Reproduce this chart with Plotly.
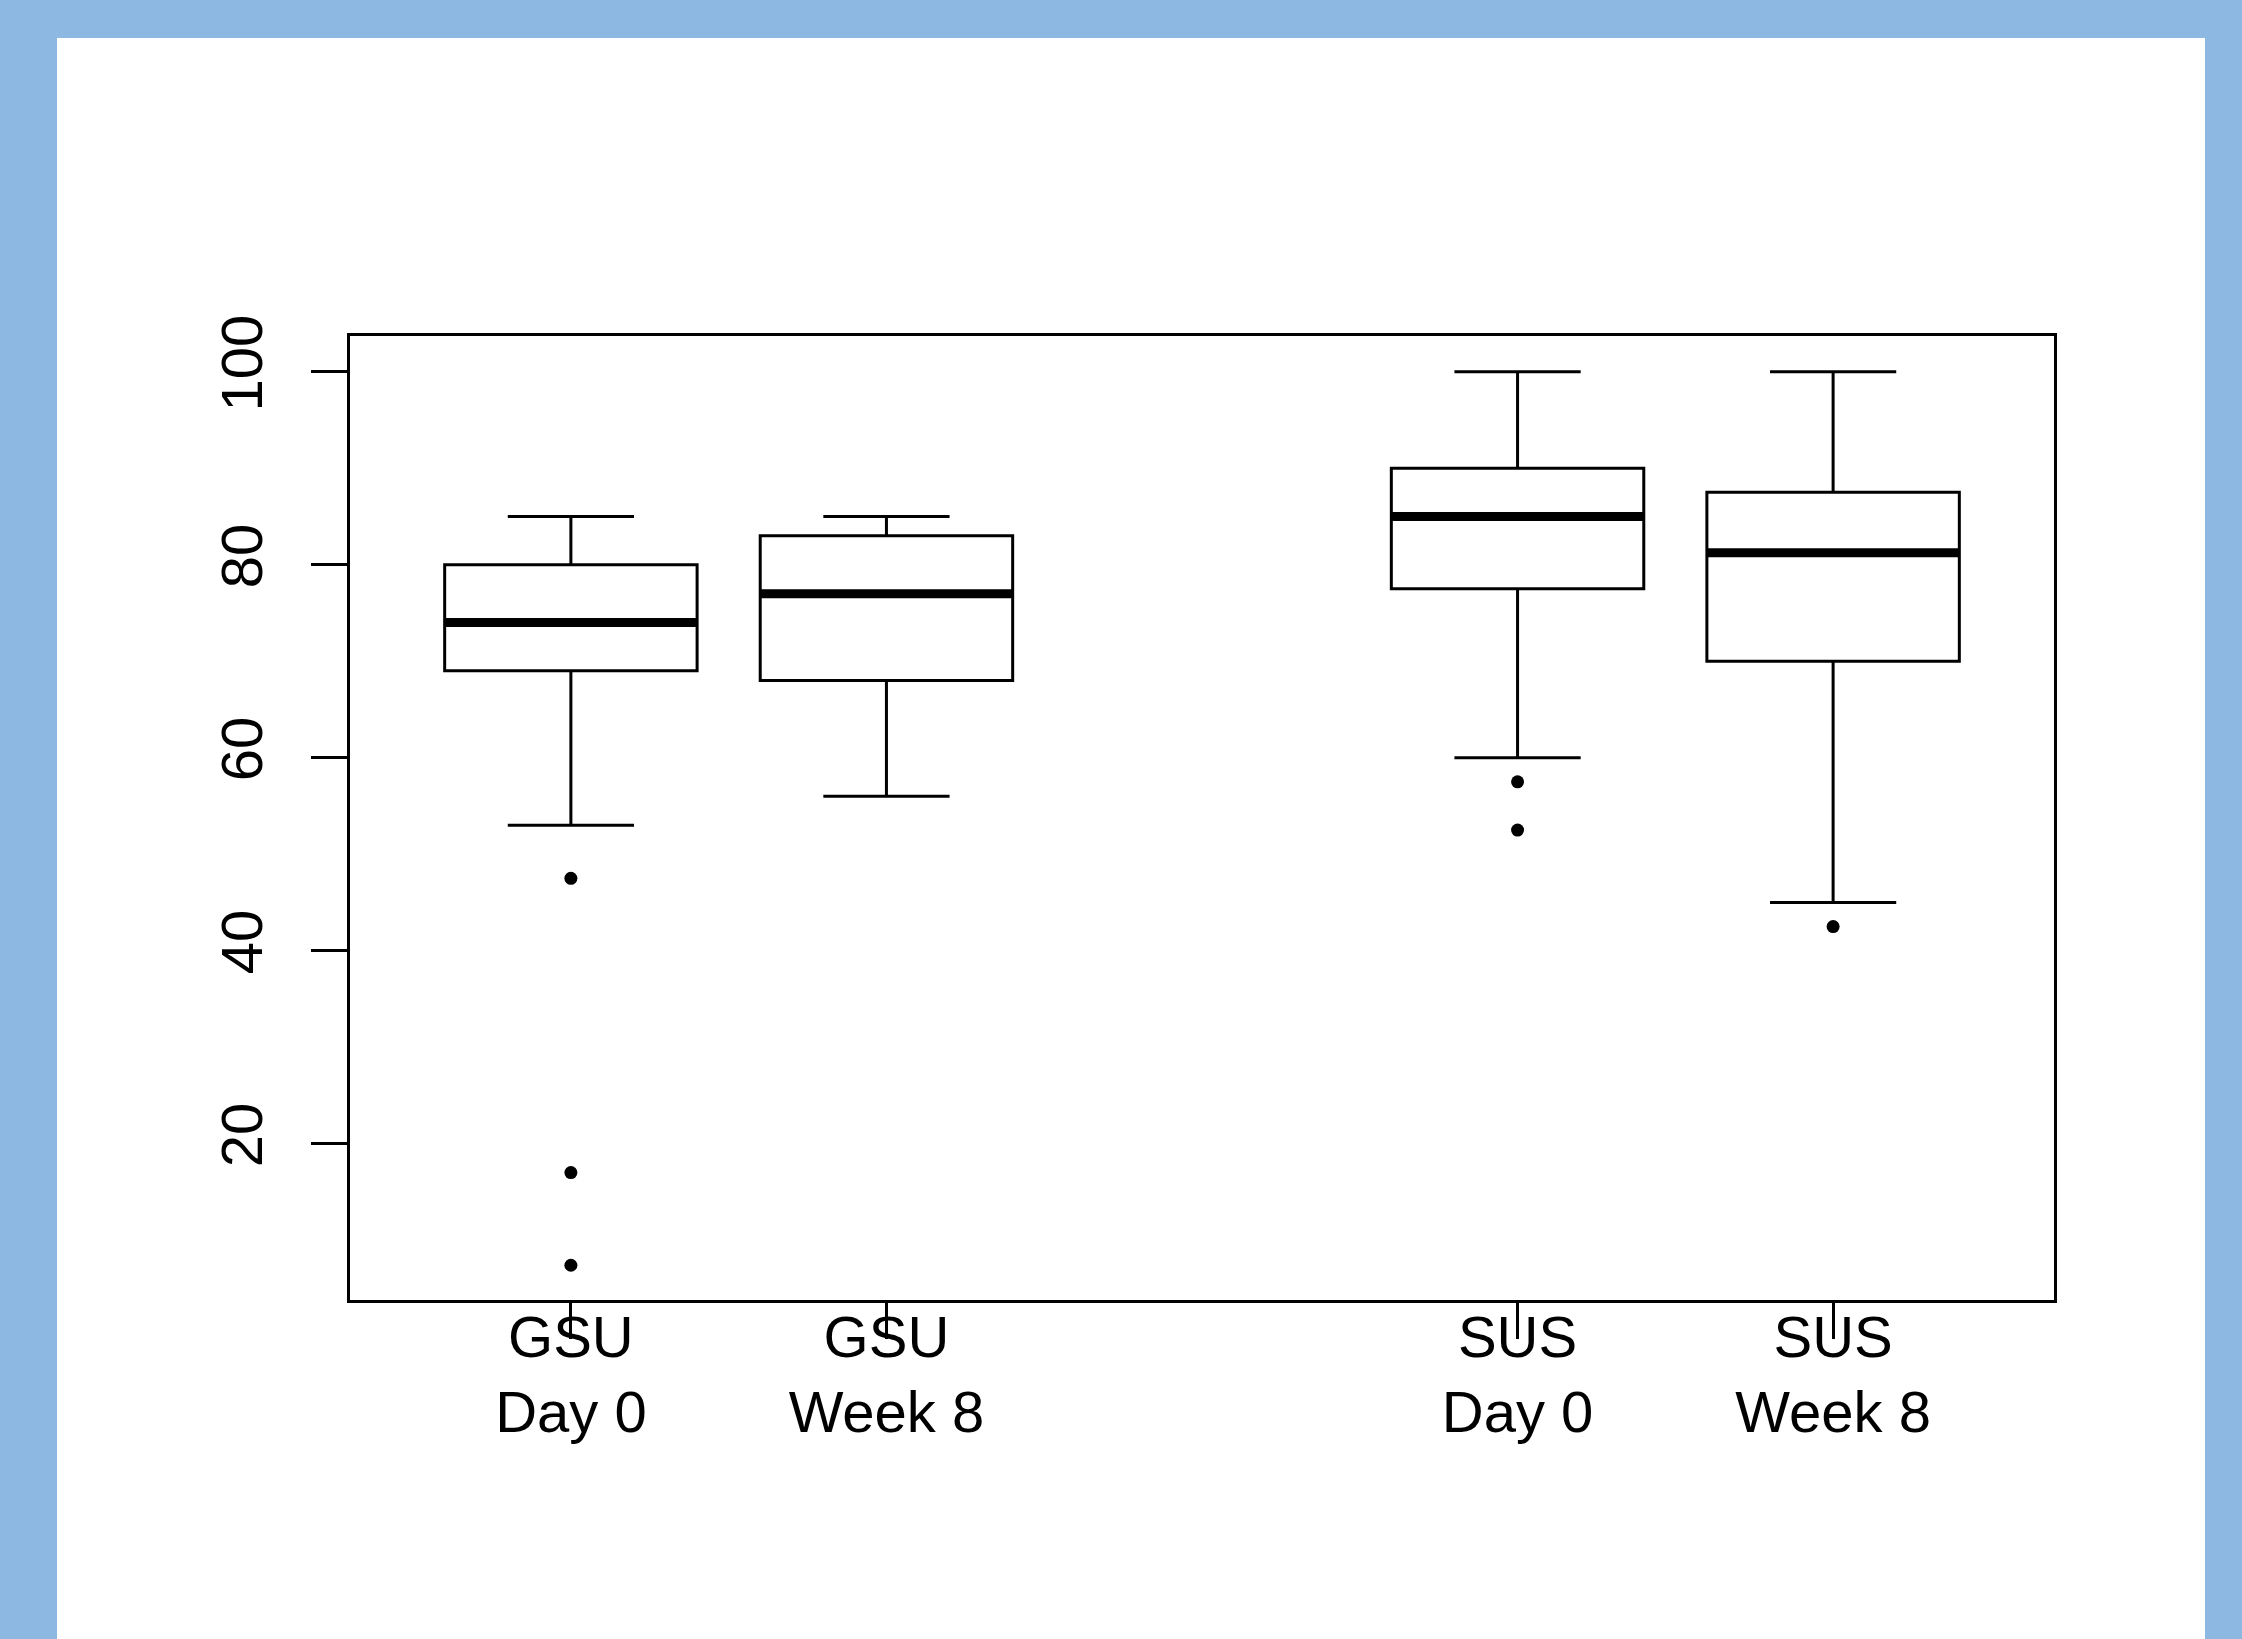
import plotly.graph_objects as go

# ---- data ----
categories = ["GSU<br>Day 0", "GSU<br>Week 8", "SUS<br>Day 0", "SUS<br>Week 8"]
positions = [1, 2, 4, 5]
lower_whisker = [53, 56, 60, 45]
q1 = [69, 68, 77.5, 70]
median = [74, 77, 85, 81.25]
q3 = [80, 83, 90, 87.5]
upper_whisker = [85, 85, 100, 100]
outlier_pos = [1, 1, 1, 4, 4, 5]
outlier_val = [47.5, 17, 7.4, 57.5, 52.5, 42.5]
y_ticks = [20, 40, 60, 80, 100]

BOX_W = 0.8
LW = 3

fig = go.Figure()

fig.add_trace(go.Box(
    x=positions, q1=q1, median=median, q3=q3,
    lowerfence=lower_whisker, upperfence=upper_whisker,
    width=BOX_W, whiskerwidth=0.5,
    fillcolor="white", line=dict(color="black", width=LW),
    boxpoints=False, showlegend=False, hoverinfo="skip",
))

# thick median lines
mx, my = [], []
for p, m in zip(positions, median):
    mx += [p - BOX_W / 2, p + BOX_W / 2, None]
    my += [m, m, None]
fig.add_trace(go.Scatter(x=mx, y=my, mode="lines",
                         line=dict(color="black", width=9),
                         showlegend=False, hoverinfo="skip"))

# outliers
fig.add_trace(go.Scatter(x=outlier_pos, y=outlier_val, mode="markers",
                         marker=dict(color="black", size=13),
                         showlegend=False, hoverinfo="skip"))

W, H = 2242, 1639
L, R, T, B = 350, 188, 336, 339
pw, ph = W - L - R, H - T - B

def px2paper_x(px):
    return (px - L) / pw

def px2paper_y(py):
    return (H - B - py) / ph

fig.add_shape(type="rect", xref="paper", yref="paper",
              x0=px2paper_x(57), x1=px2paper_x(2205),
              y0=px2paper_y(1700), y1=px2paper_y(38),
              fillcolor="white", line=dict(width=0), layer="below")

font = dict(family="Liberation Sans, Arial, sans-serif", size=58, color="black")

fig.update_xaxes(
    range=[0.3, 5.7], tickmode="array", tickvals=positions, ticktext=categories,
    ticks="outside", ticklen=36, tickwidth=LW, tickcolor="black",
    showline=True, linecolor="black", linewidth=LW, mirror=True,
    showgrid=False, zeroline=False, tickfont=font, ticklabelstandoff=-52,
)
fig.update_yaxes(
    range=[3.8, 103.7], tickmode="array", tickvals=y_ticks,
    ticktext=[str(v) for v in y_ticks], tickangle=-90,
    ticks="outside", ticklen=36, tickwidth=LW, tickcolor="black",
    showline=True, linecolor="black", linewidth=LW, mirror=True,
    showgrid=False, zeroline=False, tickfont=font, ticklabelstandoff=26,
)

fig.update_layout(
    width=W, height=H,
    margin=dict(l=L, r=R, t=T, b=B, autoexpand=False),
    paper_bgcolor="#8DB8E2", plot_bgcolor="white",
    font=font,
)

fig.write_html("out.html", config={"displayModeBar": False},
               post_script="document.body.style.margin='0';document.body.style.overflow='hidden';")
